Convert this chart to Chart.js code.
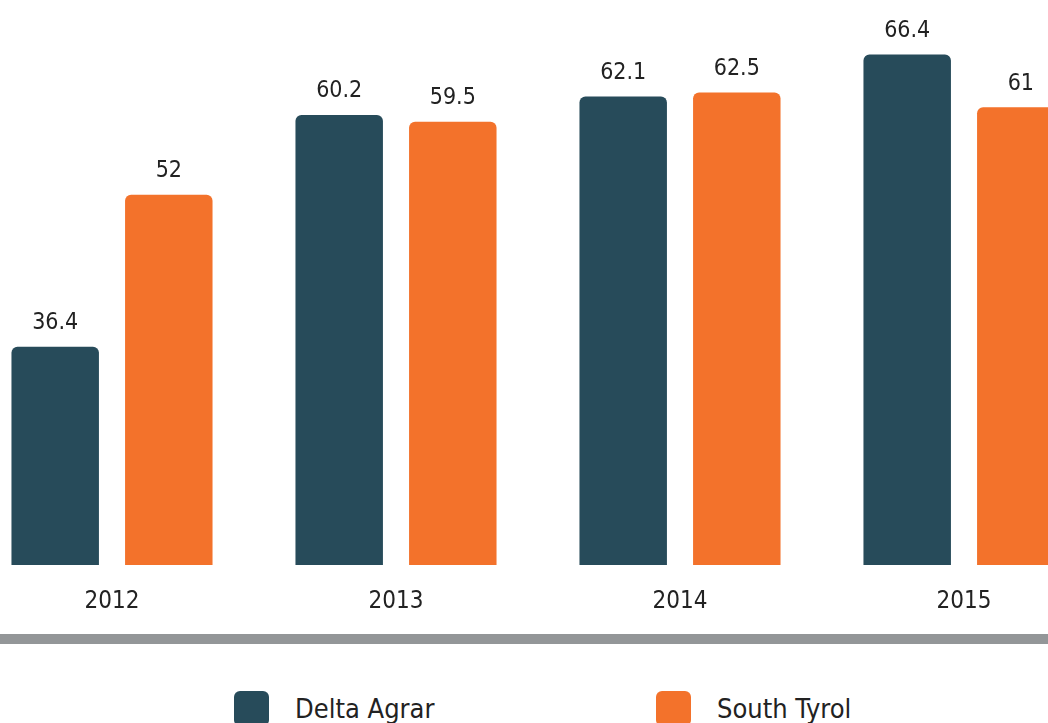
<!DOCTYPE html>
<html>
<head>
<meta charset="utf-8">
<script src="https://cdn.jsdelivr.net/npm/chart.js@4.4.0/dist/chart.umd.min.js"></script>
<style>
  html, body { margin: 0; padding: 0; background: #fff; }
  #wrap { position: relative; width: 1048px; height: 723px; overflow: hidden; }
  #barChart { position: absolute; left: -30px; top: 0; }
  #baseline { position: absolute; left: 0; top: 634px; width: 1048px; height: 10px; background: #939698; }
  #legend { position: absolute; top: 691px; left: 0; width: 1048px; height: 40px; }
  .item { position: absolute; top: 0; height: 35px; font-family: 'Liberation Sans Narrow', 'DejaVu Sans Condensed', sans-serif; font-size: 27px; color: #222; line-height: 35px; white-space: nowrap; }
  .item span.box { display: inline-block; width: 35px; height: 35px; border-radius: 6px; vertical-align: top; margin-right: 26px; }
</style>
</head>
<body>
<div id="wrap">
  <canvas id="barChart" width="1136" height="625"></canvas>
  <div id="baseline"></div>
  <div id="legend"></div>
</div>
<script>
// Chart data
var years = ['2012', '2013', '2014', '2015'];
var seriesNames = ['Delta Agrar', 'South Tyrol'];
var deltaAgrar = [36.4, 60.2, 62.1, 66.4];
var southTyrol = [52, 59.5, 62.5, 61];
var seriesColors = ['#274b5a', '#f3722b'];
var legendLeft = [234, 656];

var fontFamily = "'Liberation Sans Narrow', 'DejaVu Sans Condensed', sans-serif";

// Plugin to draw the value above each bar
var valueLabels = {
    id: 'valueLabels',
    afterDatasetsDraw: function (chart) {
        var ctx = chart.ctx;
        ctx.save();
        ctx.font = '23px ' + fontFamily;
        ctx.fillStyle = '#222';
        ctx.textAlign = 'center';
        ctx.textBaseline = 'bottom';
        chart.data.datasets.forEach(function (ds, i) {
            chart.getDatasetMeta(i).data.forEach(function (bar, j) {
                ctx.fillText(String(ds.data[j]), bar.x, bar.y - 12);
            });
        });
        ctx.restore();
    }
};

function generateBarChart() {
    var ctx = document.getElementById('barChart').getContext('2d');
    new Chart(ctx, {
        type: 'bar',
        data: {
            labels: years,
            datasets: [{
                label: seriesNames[0],
                data: deltaAgrar,
                backgroundColor: seriesColors[0],
                borderRadius: 6,
                borderSkipped: false
            }, {
                label: seriesNames[1],
                data: southTyrol,
                backgroundColor: seriesColors[1],
                borderRadius: 6,
                borderSkipped: false
            }]
        },
        options: {
            responsive: false,
            animation: false,
            categoryPercentage: 0.8,
            barPercentage: 0.77,
            layout: { padding: 0 },
            scales: {
                x: {
                    grid: { display: false },
                    border: { display: false },
                    ticks: {
                        color: '#222',
                        padding: 14,
                        font: { family: fontFamily, size: 24 }
                    },
                    afterFit: function (scale) { scale.height = 60; }
                },
                y: {
                    display: false,
                    min: 14,
                    max: 72
                }
            },
            plugins: {
                legend: { display: false },
                tooltip: { enabled: false }
            }
        },
        plugins: [valueLabels]
    });
}

// Legend built from the series names and colours
function buildLegend() {
    var legend = document.getElementById('legend');
    seriesNames.forEach(function (name, i) {
        var item = document.createElement('div');
        item.className = 'item';
        item.style.left = legendLeft[i] + 'px';
        item.innerHTML = '<span class="box" style="background:' + seriesColors[i] + '"></span>' + name;
        legend.appendChild(item);
    });
}

generateBarChart();
buildLegend();
</script>
</body>
</html>
